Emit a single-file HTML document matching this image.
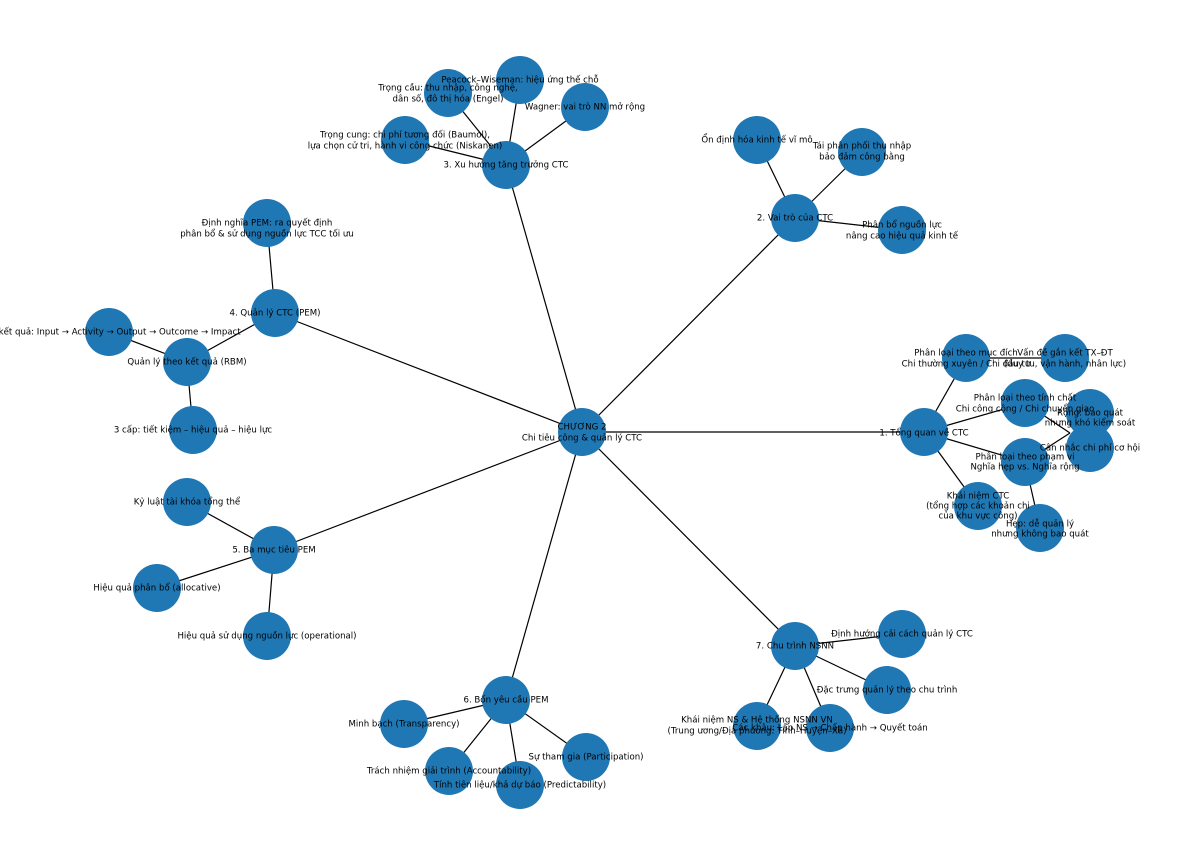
<!DOCTYPE html>
<html><head><meta charset="utf-8"><style>
html,body{margin:0;padding:0;background:#fff;}
svg{display:block;}
text{font-family:"DejaVu Sans","Liberation Sans",sans-serif;font-size:8.6px;fill:#000;text-anchor:middle;dominant-baseline:middle;}
line{stroke:#000;stroke-width:1.2;}
circle{fill:#1f77b4;}
</style></head><body>
<svg width="1200" height="865" viewBox="0 0 1200 865" xmlns="http://www.w3.org/2000/svg">
<g>
<line x1="582" y1="432" x2="924" y2="432"/>
<line x1="582" y1="432" x2="795" y2="218"/>
<line x1="582" y1="432" x2="506" y2="165"/>
<line x1="582" y1="432" x2="275" y2="313"/>
<line x1="582" y1="432" x2="274" y2="550"/>
<line x1="582" y1="432" x2="506" y2="700"/>
<line x1="582" y1="432" x2="795" y2="646"/>
<line x1="924" y1="432" x2="966" y2="358"/>
<line x1="966" y1="358" x2="1065" y2="358"/>
<line x1="924" y1="432" x2="1025" y2="403"/>
<line x1="924" y1="432" x2="1025" y2="462"/>
<line x1="924" y1="432" x2="978" y2="506"/>
<line x1="1025" y1="403" x2="1070" y2="433"/>
<line x1="1025" y1="462" x2="1070" y2="433"/>
<line x1="1025" y1="462" x2="1040" y2="528"/>
<line x1="795" y1="218" x2="757" y2="140"/>
<line x1="795" y1="218" x2="862" y2="152"/>
<line x1="795" y1="218" x2="902" y2="230"/>
<line x1="506" y1="165" x2="448" y2="93"/>
<line x1="506" y1="165" x2="520" y2="80"/>
<line x1="506" y1="165" x2="585" y2="107"/>
<line x1="506" y1="165" x2="405" y2="140"/>
<line x1="275" y1="313" x2="267" y2="223"/>
<line x1="275" y1="313" x2="187" y2="362"/>
<line x1="187" y1="362" x2="109" y2="332"/>
<line x1="187" y1="362" x2="193" y2="430"/>
<line x1="274" y1="550" x2="187" y2="502"/>
<line x1="274" y1="550" x2="157" y2="588"/>
<line x1="274" y1="550" x2="267" y2="636"/>
<line x1="506" y1="700" x2="404" y2="724"/>
<line x1="506" y1="700" x2="449" y2="771"/>
<line x1="506" y1="700" x2="520" y2="785"/>
<line x1="506" y1="700" x2="586" y2="757"/>
<line x1="795" y1="646" x2="902" y2="634"/>
<line x1="795" y1="646" x2="887" y2="690"/>
<line x1="795" y1="646" x2="757" y2="726"/>
<line x1="795" y1="646" x2="830" y2="728"/>
</g>
<g>
<circle cx="582" cy="432" r="24"/>
<circle cx="924" cy="432" r="24"/>
<circle cx="966" cy="358" r="24"/>
<circle cx="1065" cy="358" r="24"/>
<circle cx="1025" cy="403" r="24"/>
<circle cx="1090" cy="413" r="24"/>
<circle cx="1090" cy="448" r="24"/>
<circle cx="1025" cy="462" r="24"/>
<circle cx="1040" cy="528" r="24"/>
<circle cx="978" cy="506" r="24"/>
<circle cx="795" cy="218" r="24"/>
<circle cx="757" cy="140" r="24"/>
<circle cx="862" cy="152" r="24"/>
<circle cx="902" cy="230" r="24"/>
<circle cx="506" cy="165" r="24"/>
<circle cx="448" cy="93" r="24"/>
<circle cx="520" cy="80" r="24"/>
<circle cx="585" cy="107" r="24"/>
<circle cx="405" cy="140" r="24"/>
<circle cx="275" cy="313" r="24"/>
<circle cx="267" cy="223" r="24"/>
<circle cx="187" cy="362" r="24"/>
<circle cx="109" cy="332" r="24"/>
<circle cx="193" cy="430" r="24"/>
<circle cx="274" cy="550" r="24"/>
<circle cx="187" cy="502" r="24"/>
<circle cx="157" cy="588" r="24"/>
<circle cx="267" cy="636" r="24"/>
<circle cx="506" cy="700" r="24"/>
<circle cx="404" cy="724" r="24"/>
<circle cx="449" cy="771" r="24"/>
<circle cx="520" cy="785" r="24"/>
<circle cx="586" cy="757" r="24"/>
<circle cx="795" cy="646" r="24"/>
<circle cx="902" cy="634" r="24"/>
<circle cx="887" cy="690" r="24"/>
<circle cx="757" cy="726" r="24"/>
<circle cx="830" cy="728" r="24"/>
</g>
<g>
<text x="582" y="427">CHƯƠNG 2</text><text x="582" y="438">Chi tiêu công &amp; quản lý CTC</text>
<text x="924" y="433">1. Tổng quan về CTC</text>
<text x="966" y="353">Phân loại theo mục đích</text><text x="966" y="364">Chi thường xuyên / Chi đầu tư</text>
<text x="1065" y="353">Vấn đề gắn kết TX–ĐT</text><text x="1065" y="364">(duy tu, vận hành, nhân lực)</text>
<text x="1025" y="398">Phân loại theo tính chất</text><text x="1025" y="409">Chi công cộng / Chi chuyển giao</text>
<text x="1090" y="413">Rộng: bao quát</text><text x="1090" y="423">nhưng khó kiểm soát</text>
<text x="1090" y="448">Cân nhắc chi phí cơ hội</text>
<text x="1025" y="457">Phân loại theo phạm vi</text><text x="1025" y="467">Nghĩa hẹp vs. Nghĩa rộng</text>
<text x="1040" y="524">Hẹp: dễ quản lý</text><text x="1040" y="534">nhưng không bao quát</text>
<text x="978" y="496">Khái niệm CTC</text><text x="978" y="506">(tổng hợp các khoản chi</text><text x="978" y="516">của khu vực công)</text>
<text x="795" y="218">2. Vai trò của CTC</text>
<text x="757" y="140">Ổn định hóa kinh tế vĩ mô</text>
<text x="862" y="146">Tái phân phối thu nhập</text><text x="862" y="157">bảo đảm công bằng</text>
<text x="902" y="225">Phân bổ nguồn lực</text><text x="902" y="236">nâng cao hiệu quả kinh tế</text>
<text x="506" y="165">3. Xu hướng tăng trưởng CTC</text>
<text x="448" y="88">Trọng cầu: thu nhập, công nghệ,</text><text x="448" y="99">dân số, đô thị hóa (Engel)</text>
<text x="520" y="80">Peacock–Wiseman: hiệu ứng thế chỗ</text>
<text x="585" y="107">Wagner: vai trò NN mở rộng</text>
<text x="405" y="135">Trọng cung: chi phí tương đối (Baumol),</text><text x="405" y="146">lựa chọn cử tri, hành vi công chức (Niskanen)</text>
<text x="275" y="313">4. Quản lý CTC (PEM)</text>
<text x="267" y="223">Định nghĩa PEM: ra quyết định</text><text x="267" y="234">phân bổ &amp; sử dụng nguồn lực TCC tối ưu</text>
<text x="187" y="362">Quản lý theo kết quả (RBM)</text>
<text x="106" y="332">Chuỗi kết quả: Input → Activity → Output → Outcome → Impact</text>
<text x="193" y="430">3 cấp: tiết kiệm – hiệu quả – hiệu lực</text>
<text x="274" y="550">5. Ba mục tiêu PEM</text>
<text x="187" y="502">Kỷ luật tài khóa tổng thể</text>
<text x="157" y="588">Hiệu quả phân bổ (allocative)</text>
<text x="267" y="636">Hiệu quả sử dụng nguồn lực (operational)</text>
<text x="506" y="700">6. Bốn yêu cầu PEM</text>
<text x="404" y="724">Minh bạch (Transparency)</text>
<text x="449" y="771">Trách nhiệm giải trình (Accountability)</text>
<text x="520" y="785">Tính tiên liệu/khả dự báo (Predictability)</text>
<text x="586" y="757">Sự tham gia (Participation)</text>
<text x="795" y="646">7. Chu trình NSNN</text>
<text x="902" y="634">Định hướng cải cách quản lý CTC</text>
<text x="887" y="690">Đặc trưng quản lý theo chu trình</text>
<text x="757" y="720">Khái niệm NS &amp; Hệ thống NSNN VN</text><text x="757" y="731">(Trung ương/Địa phương: Tỉnh–Huyện–Xã)</text>
<text x="830" y="728">Các khâu: Lập NS → Chấp hành → Quyết toán</text>
</g>
</svg>
</body></html>
